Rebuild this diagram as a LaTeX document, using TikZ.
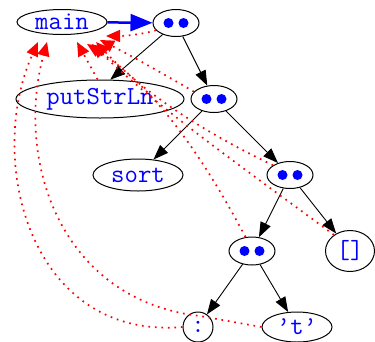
\documentclass[tikz,border=0pt]{standalone}
\usetikzlibrary{shapes.geometric,arrows.meta}
\begin{document}
\begin{tikzpicture}[x=1pt,y=-1pt,
  vnode/.style={ellipse,draw,line width=1pt,inner sep=0pt,
    font=\fontsize{26}{30}\selectfont\ttfamily,text=blue},
  appnode/.style={vnode,minimum width=46,minimum height=27},
  tree/.style={draw,line width=0.9pt,-{Triangle[length=15pt,width=11pt]}},
  spine/.style={draw=blue,line width=2.5pt,-{Triangle[length=22pt,width=17pt]}},
  back/.style={draw=red,line width=1.7pt,dash pattern=on 1.7pt off 4.8pt,
    -{Triangle[length=14pt,width=12pt,fill=red]}},
  dot/.style={fill=blue}]
\useasboundingbox (0,0) rectangle (375,341);

% heap nodes
\node[vnode,minimum width=90,minimum height=25] (main) at (62,22) {main};
\node[appnode] (app1) at (176,23) {};
\node[vnode,minimum width=168,minimum height=38] (put) at (100,99) {putStrLn};
\node[appnode] (app2) at (214,99) {};
\node[vnode,minimum width=90,minimum height=32] (sort) at (138,175) {sort};
\node[appnode] (app3) at (290,175) {};
\node[appnode,minimum height=28] (app4) at (252,251) {};
\node[vnode,minimum width=49,minimum height=41] (nil) at (350,251) {[]};
\node[vnode,minimum width=30,minimum height=30] (cons) at (198,327) {:};
\node[vnode,minimum width=70,minimum height=30] (chr) at (297,327) {’t’};

% application markers
\foreach \n in {app1,app2,app3,app4}{
  \fill[dot] ([xshift=-7.5pt]\n.center) circle (5pt);
  \fill[dot] ([xshift=7.5pt]\n.center) circle (5pt);
}

% tree edges
\draw[spine] (main) -- (app1);
\draw[tree] (app1) -- (put.62);
\draw[tree] (app1) -- (app2);
\draw[tree] (app2) -- (sort);
\draw[tree] (app2) -- (app3);
\draw[tree] (app3) -- (app4);
\draw[tree] (app3) -- (nil);
\draw[tree] (app4) -- (cons);
\draw[tree] (app4) -- (chr);

% back-pointer ends below main
\coordinate (r1) at (38,42);
\coordinate (r2) at (47,42);
\coordinate (r3) at (77,42);
\coordinate (r4) at (87,44);
\coordinate (r5) at (92,44);
\coordinate (r6) at (96,42);
\coordinate (r7) at (100,40);
\coordinate (r8) at (106,36);
\coordinate (bend) at (200,316);

% back pointers
\draw[back] (cons.west) .. controls (30,340) and (-15,160) .. (r1);
\draw[back] (chr.west) -- (bend) .. controls (60,300) and (15,160) .. (r2);
\draw[back] (put.97) -- (r3);
\draw[back] (app4.115) .. controls (210,170) and (160,90) .. (r4);
\draw[back] (nil.135) .. controls (260,180) and (160,110) .. (r5);
\draw[back] (app3.150) .. controls (220,140) and (150,100) .. (r6);
\draw[back] (app2.160) .. controls (160,72) and (130,55) .. (r7);
\draw[back] (app1.200) .. controls (135,36) and (120,36) .. (r8);
\end{tikzpicture}
\end{document}
